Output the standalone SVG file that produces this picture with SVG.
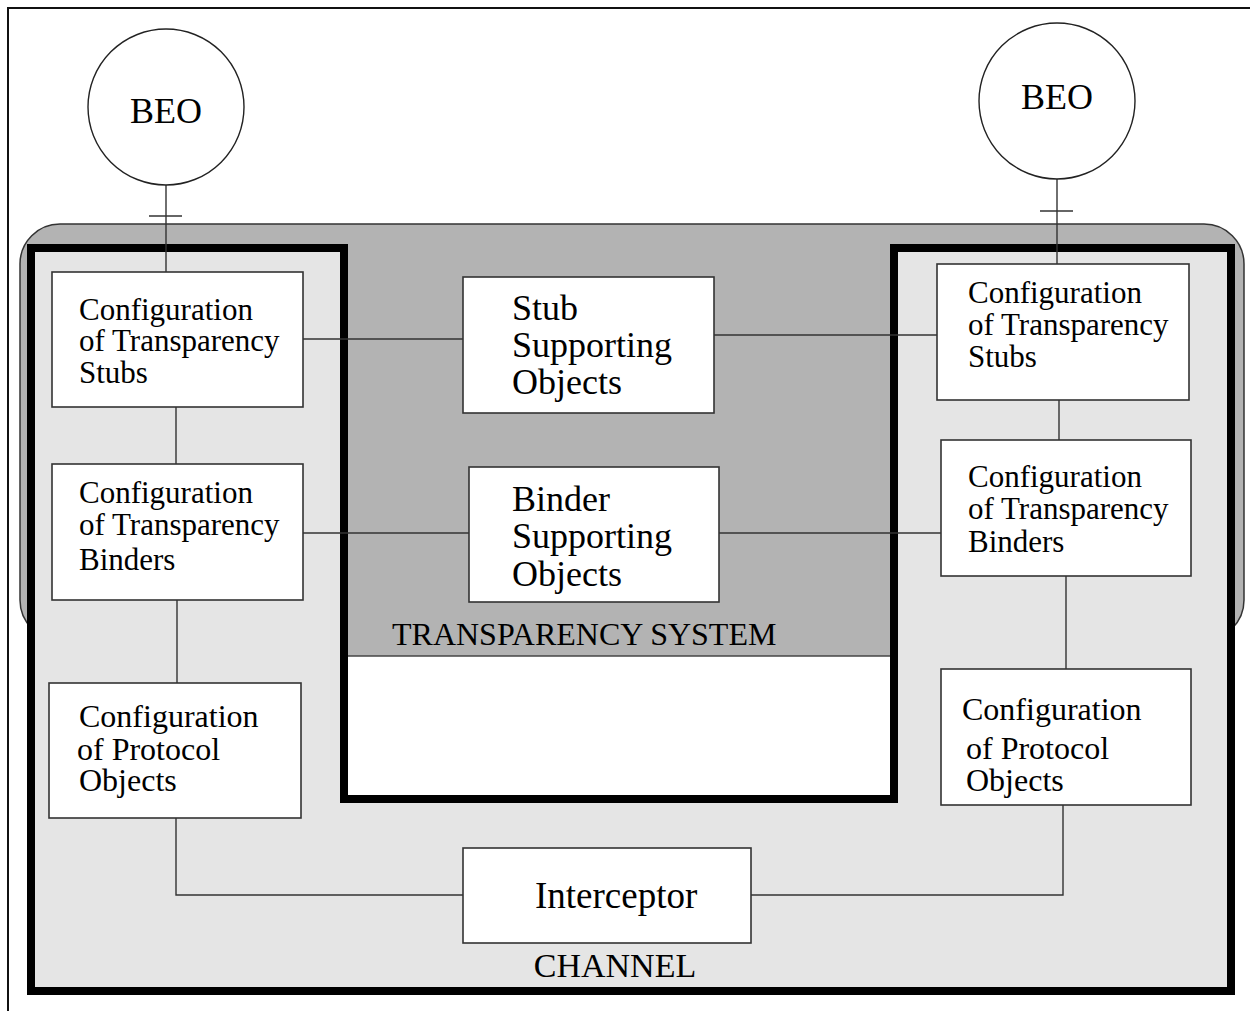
<svg xmlns="http://www.w3.org/2000/svg" width="1250" height="1011" viewBox="0 0 1250 1011">
<style>
  text { font-family: "Liberation Serif", "Times New Roman", serif; fill: #000; }
  .box { fill: #fff; stroke: #333; stroke-width: 1.6; }
  .conn { fill: none; stroke: #333; stroke-width: 1.4; }
  .t31 { font-size: 31px; }
  .t36 { font-size: 36px; }
  .tp { font-size: 32px; }
</style>
<rect x="0" y="0" width="1250" height="1011" fill="#fff"/>
<g id="frame">
  <line x1="7" y1="8" x2="1250" y2="8" stroke="#111" stroke-width="2"/>
  <line x1="8" y1="7" x2="8" y2="1011" stroke="#111" stroke-width="2"/>
</g>
<g id="transparency-system">
  <rect x="20" y="224" width="1224" height="416" rx="40" ry="40" fill="#b3b3b3" stroke="#333" stroke-width="1.5"/>
  <rect x="344" y="600" width="550" height="56" fill="#b3b3b3"/>
  <rect x="344" y="656" width="550" height="143" fill="#fff"/>
  <line x1="344" y1="656" x2="894" y2="656" stroke="#444" stroke-width="1.5"/>
  <text x="392" y="645" style="font-size:32px">TRANSPARENCY SYSTEM</text>
</g>
<g id="channel">
  <path d="M31,248 H344 V799 H894 V248 H1231 V991 H31 Z" fill="#e5e5e5" stroke="#000" stroke-width="8"/>
  <text x="615" y="977" text-anchor="middle" style="font-size:34px">CHANNEL</text>
</g>
<g id="connectors">
  <line class="conn" x1="166" y1="185" x2="166" y2="272"/>
  <line class="conn" x1="149" y1="216" x2="182" y2="216"/>
  <line class="conn" x1="1057" y1="179" x2="1057" y2="264"/>
  <line class="conn" x1="1040" y1="211" x2="1073" y2="211"/>
  <line class="conn" x1="303" y1="339" x2="463" y2="339"/>
  <line class="conn" x1="714" y1="335" x2="937" y2="335"/>
  <line class="conn" x1="176" y1="407" x2="176" y2="464"/>
  <line class="conn" x1="303" y1="533" x2="469" y2="533"/>
  <line class="conn" x1="719" y1="533" x2="941" y2="533"/>
  <line class="conn" x1="1059" y1="400" x2="1059" y2="440"/>
  <line class="conn" x1="177" y1="600" x2="177" y2="683"/>
  <line class="conn" x1="1066" y1="576" x2="1066" y2="669"/>
  <polyline class="conn" points="176,818 176,895 463,895"/>
  <polyline class="conn" points="751,895 1063,895 1063,805"/>
</g>
<g id="beo-left">
  <circle cx="166" cy="107" r="78" fill="#fff" stroke="#222" stroke-width="1.4"/>
  <text x="166" y="123" text-anchor="middle" class="t36">BEO</text>
</g>
<g id="beo-right">
  <circle cx="1057" cy="101" r="78" fill="#fff" stroke="#222" stroke-width="1.4"/>
  <text x="1057" y="109" text-anchor="middle" class="t36">BEO</text>
</g>
<g id="left-stubs">
  <rect class="box" x="52" y="272" width="251" height="135"/>
  <text class="t31" x="79" y="320">Configuration</text>
  <text class="t31" x="79" y="351">of Transparency</text>
  <text class="t31" x="79" y="383">Stubs</text>
</g>
<g id="left-binders">
  <rect class="box" x="52" y="464" width="251" height="136"/>
  <text class="t31" x="79" y="503">Configuration</text>
  <text class="t31" x="79" y="535">of Transparency</text>
  <text class="t31" x="79" y="570">Binders</text>
</g>
<g id="left-protocol">
  <rect class="box" x="49" y="683" width="252" height="135"/>
  <text class="tp" x="79" y="727">Configuration</text>
  <text class="tp" x="77" y="760">of Protocol</text>
  <text class="tp" x="79" y="791">Objects</text>
</g>
<g id="stub-supporting">
  <rect class="box" x="463" y="277" width="251" height="136"/>
  <text class="t36" x="512" y="320">Stub</text>
  <text class="t36" x="512" y="357">Supporting</text>
  <text class="t36" x="512" y="394">Objects</text>
</g>
<g id="binder-supporting">
  <rect class="box" x="469" y="467" width="250" height="135"/>
  <text class="t36" x="512" y="511">Binder</text>
  <text class="t36" x="512" y="548">Supporting</text>
  <text class="t36" x="512" y="586">Objects</text>
</g>
<g id="right-stubs">
  <rect class="box" x="937" y="264" width="252" height="136"/>
  <text class="t31" x="968" y="303">Configuration</text>
  <text class="t31" x="968" y="335">of Transparency</text>
  <text class="t31" x="968" y="367">Stubs</text>
</g>
<g id="right-binders">
  <rect class="box" x="941" y="440" width="250" height="136"/>
  <text class="t31" x="968" y="487">Configuration</text>
  <text class="t31" x="968" y="519">of Transparency</text>
  <text class="t31" x="968" y="552">Binders</text>
</g>
<g id="right-protocol">
  <rect class="box" x="941" y="669" width="250" height="136"/>
  <text class="tp" x="962" y="720">Configuration</text>
  <text class="tp" x="966" y="759">of Protocol</text>
  <text class="tp" x="966" y="791">Objects</text>
</g>
<g id="interceptor">
  <rect class="box" x="463" y="848" width="288" height="95"/>
  <text x="535" y="908" style="font-size:37px">Interceptor</text>
</g>
</svg>
